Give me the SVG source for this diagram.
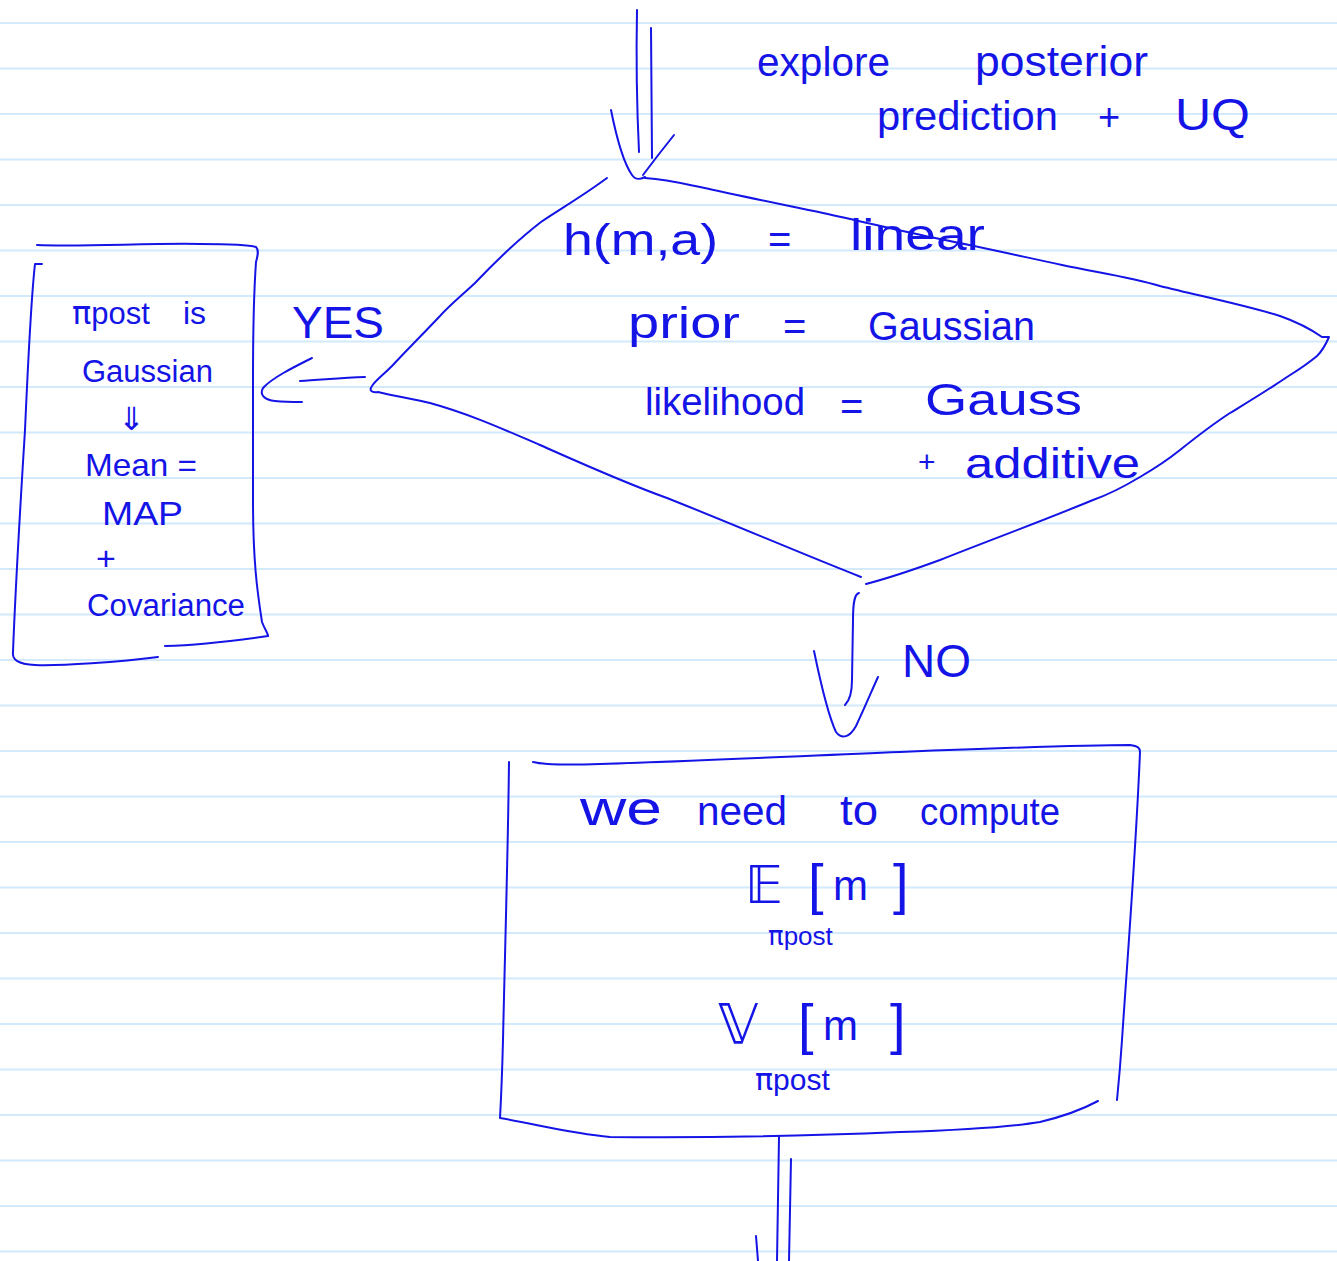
<svg xmlns="http://www.w3.org/2000/svg" width="1337" height="1261" viewBox="0 0 1337 1261">
<style>
.rule{stroke:#d2eafb;stroke-width:2}
.ink{fill:none;stroke:#1414e6;stroke-width:2;stroke-linecap:round;stroke-linejoin:round}
.t{font-family:"Liberation Sans","DejaVu Sans",sans-serif;fill:#1414e6}
.m{font-family:"DejaVu Sans","Liberation Sans",sans-serif;fill:#1414e6}
</style>
<rect width="1337" height="1261" fill="#ffffff"/>
<g id="paper">
<line class="rule" x1="0" y1="23" x2="1337" y2="23"/>
<line class="rule" x1="0" y1="68.5" x2="1337" y2="68.5"/>
<line class="rule" x1="0" y1="114" x2="1337" y2="114"/>
<line class="rule" x1="0" y1="159.5" x2="1337" y2="159.5"/>
<line class="rule" x1="0" y1="205" x2="1337" y2="205"/>
<line class="rule" x1="0" y1="250.5" x2="1337" y2="250.5"/>
<line class="rule" x1="0" y1="296" x2="1337" y2="296"/>
<line class="rule" x1="0" y1="341.5" x2="1337" y2="341.5"/>
<line class="rule" x1="0" y1="387" x2="1337" y2="387"/>
<line class="rule" x1="0" y1="432.5" x2="1337" y2="432.5"/>
<line class="rule" x1="0" y1="478" x2="1337" y2="478"/>
<line class="rule" x1="0" y1="523.5" x2="1337" y2="523.5"/>
<line class="rule" x1="0" y1="569" x2="1337" y2="569"/>
<line class="rule" x1="0" y1="614.5" x2="1337" y2="614.5"/>
<line class="rule" x1="0" y1="660" x2="1337" y2="660"/>
<line class="rule" x1="0" y1="705.5" x2="1337" y2="705.5"/>
<line class="rule" x1="0" y1="751" x2="1337" y2="751"/>
<line class="rule" x1="0" y1="796.5" x2="1337" y2="796.5"/>
<line class="rule" x1="0" y1="842" x2="1337" y2="842"/>
<line class="rule" x1="0" y1="887.5" x2="1337" y2="887.5"/>
<line class="rule" x1="0" y1="933" x2="1337" y2="933"/>
<line class="rule" x1="0" y1="978.5" x2="1337" y2="978.5"/>
<line class="rule" x1="0" y1="1024" x2="1337" y2="1024"/>
<line class="rule" x1="0" y1="1069.5" x2="1337" y2="1069.5"/>
<line class="rule" x1="0" y1="1115" x2="1337" y2="1115"/>
<line class="rule" x1="0" y1="1160.5" x2="1337" y2="1160.5"/>
<line class="rule" x1="0" y1="1206" x2="1337" y2="1206"/>
<line class="rule" x1="0" y1="1251.5" x2="1337" y2="1251.5"/>
</g>

<g id="note">
<text class="t" x="757" y="76" font-size="40" textLength="133" lengthAdjust="spacingAndGlyphs">explore</text>
<text class="t" x="975" y="76" font-size="42" textLength="173" lengthAdjust="spacingAndGlyphs">posterior</text>
<text class="t" x="877" y="130" font-size="40" textLength="181" lengthAdjust="spacingAndGlyphs">prediction</text>
<text class="t" x="1098" y="130" font-size="38">+</text>
<text class="t" x="1175" y="130" font-size="44" textLength="75" lengthAdjust="spacingAndGlyphs">UQ</text>
</g>

<g id="decision">
<path class="ink" d="M607,178 C580,198 555,212 541,222 C515,242 495,262 475,283 C460,297 450,305 440,316 C420,337 405,352 392,366 C383,375 375,381 372,386 C369,390 371,393 378,392 C395,396 412,399 430,403 C470,414 505,430 540,445 C585,465 625,483 667,498 C735,525 800,553 861,577"/>
<path class="ink" d="M645,178 C670,180 685,184 700,187 C740,196 780,204 823,213 C865,222 900,231 940,239 C985,248 1020,256 1062,265 C1100,273 1130,277 1160,286 C1200,296 1245,305 1280,316 C1300,323 1312,330 1322,337 L1329,337 C1326,344 1323,350 1317,356 C1305,366 1295,372 1287,377 C1265,392 1248,402 1230,413 C1210,426 1195,438 1180,450 C1165,462 1152,470 1140,477 C1125,486 1110,494 1093,500 C1040,522 990,540 940,560 C910,571 885,579 866,584"/>
<text class="t" x="563" y="255" font-size="44" textLength="155" lengthAdjust="spacingAndGlyphs">h(m,a)</text>
<text class="t" x="768" y="253" font-size="40">=</text>
<text class="t" x="850" y="250" font-size="44" textLength="135" lengthAdjust="spacingAndGlyphs">linear</text>
<text class="t" x="628" y="338" font-size="44" textLength="112" lengthAdjust="spacingAndGlyphs">prior</text>
<text class="t" x="783" y="340" font-size="40">=</text>
<text class="t" x="868" y="340" font-size="40" textLength="167" lengthAdjust="spacingAndGlyphs">Gaussian</text>
<text class="t" x="645" y="415" font-size="38" textLength="160" lengthAdjust="spacingAndGlyphs">likelihood</text>
<text class="t" x="840" y="420" font-size="40">=</text>
<text class="t" x="925" y="415" font-size="44" textLength="157" lengthAdjust="spacingAndGlyphs">Gauss</text>
<text class="t" x="918" y="472" font-size="30">+</text>
<text class="t" x="965" y="478" font-size="42" textLength="175" lengthAdjust="spacingAndGlyphs">additive</text>
</g>

<g id="gaussian-box">
<path class="ink" d="M37,245 C80,247 150,243 200,244 C230,244 250,245 256,247 C259,250 258,255 256,262 C254,290 253,330 253,380 L253,500 C253,560 257,590 262,622 C265,630 268,633 268,636"/>
<path class="ink" d="M165,646 C200,645 240,640 268,636"/>
<path class="ink" d="M158,657 C120,662 60,666 35,665 C18,664 12,660 13,652 C15,600 20,510 25,430 C29,340 32,290 35,264 L42,264"/>
<text class="t" x="72" y="324" font-size="32"><tspan class="m">π</tspan><tspan font-size="31">post</tspan><tspan x="183">is</tspan></text>
<text class="t" x="82" y="382" font-size="31" textLength="131" lengthAdjust="spacingAndGlyphs">Gaussian</text>
<text class="m" x="118" y="430" font-size="32">⇓</text>
<text class="t" x="85" y="476" font-size="32" textLength="112" lengthAdjust="spacingAndGlyphs">Mean =</text>
<text class="t" x="102" y="525" font-size="34" textLength="81" lengthAdjust="spacingAndGlyphs">MAP</text>
<text class="t" x="96" y="570" font-size="34">+</text>
<text class="t" x="87" y="616" font-size="31" textLength="158" lengthAdjust="spacingAndGlyphs">Covariance</text>
</g>

<g id="compute-box">
<path class="ink" d="M533,762 C545,765 570,765 600,764 C700,761 800,756 900,752 C1000,748 1080,745 1130,745 C1138,746 1140,748 1140,752 C1136,850 1128,950 1122,1040 C1120,1070 1118,1090 1117,1100"/>
<path class="ink" d="M509,762 C508,850 505,950 503,1040 C502,1080 501,1100 500,1118 C540,1125 570,1133 610,1137 C700,1138 780,1137 900,1132 C960,1130 1010,1127 1040,1122 C1065,1116 1085,1108 1098,1101"/>
<text class="t" x="580" y="825" font-size="48" textLength="82" lengthAdjust="spacingAndGlyphs">we</text>
<text class="t" x="697" y="825" font-size="40" textLength="90" lengthAdjust="spacingAndGlyphs">need</text>
<text class="t" x="840" y="825" font-size="42" textLength="38" lengthAdjust="spacingAndGlyphs">to</text>
<text class="t" x="920" y="825" font-size="38" textLength="140" lengthAdjust="spacingAndGlyphs">compute</text>
<text class="m" x="745" y="903" font-size="52">𝔼</text>
<text class="t" x="808" y="903" font-size="56">[</text>
<text class="t" x="833" y="900" font-size="42">m</text>
<text class="t" x="893" y="903" font-size="56">]</text>
<text class="t" x="768" y="945" font-size="26"><tspan class="m">π</tspan>post</text>
<text class="m" x="718" y="1043" font-size="56">𝕍</text>
<text class="t" x="798" y="1043" font-size="56">[</text>
<text class="t" x="823" y="1040" font-size="42">m</text>
<text class="t" x="890" y="1043" font-size="56">]</text>
<text class="t" x="755" y="1090" font-size="30"><tspan class="m">π</tspan>post</text>
</g>

<g id="connectors">
<path class="ink" d="M637,10 C636,60 637,110 639,152"/>
<path class="ink" d="M651,28 C651,80 652,120 652,158"/>
<path class="ink" d="M611,110 C617,140 625,165 632,175 C636,181 641,179 645,177"/>
<path class="ink" d="M674,135 C662,150 652,163 643,175"/>
<path class="ink" d="M365,377 C340,378 320,380 300,381"/>
<path class="ink" d="M312,358 C292,368 272,378 263,388 C259,395 265,400 275,401 C285,402 295,402 302,402"/>
<text class="t" x="292" y="338" font-size="44" textLength="92" lengthAdjust="spacingAndGlyphs">YES</text>
<path class="ink" d="M859,593 C855,594 853,600 853,620 L852,680 C852,692 850,700 845,705"/>
<path class="ink" d="M814,651 C820,680 828,715 836,732 C842,740 850,737 856,726 C865,707 872,690 878,677"/>
<text class="t" x="902" y="677" font-size="46">NO</text>
<path class="ink" d="M779,1137 L777,1261"/>
<path class="ink" d="M791,1159 L789,1261"/>
<path class="ink" d="M756,1236 L758,1261"/>
</g>
</svg>
